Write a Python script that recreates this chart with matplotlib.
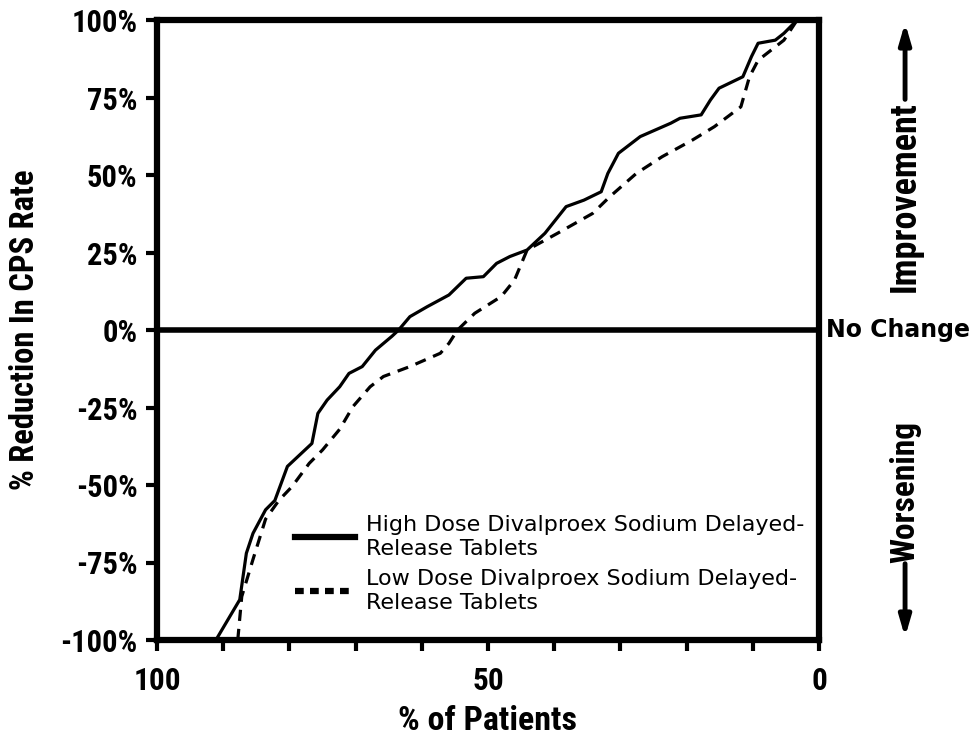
import matplotlib
matplotlib.use("Agg")
import matplotlib.pyplot as plt
from matplotlib.lines import Line2D

# % of patients (x, reversed axis) vs % reduction in CPS rate (y)
high_x = [91.1, 87.5, 86.5, 85.5, 83.6, 82.2, 80.3, 78.3, 76.6, 75.7, 74.3, 72.4, 71.0, 69.0, 67.0,
          64.5, 63.5, 61.8, 59.2, 55.9, 53.3, 50.7, 48.7, 46.7, 44.1, 41.4, 38.2, 35.5, 32.9, 31.9,
          30.3, 27.0, 22.4, 21.0, 17.8, 16.4, 15.1, 11.5, 10.2, 9.2, 6.6, 5.3, 3.3]
high_y = [-100, -87, -72, -65.6, -58, -55, -44, -40, -36.6, -26.9, -22.6, -18.3, -14, -11.8, -6.5,
          -2, 0, 4.3, 7.5, 11.3, 16.7, 17.2, 21.5, 23.7, 25.8, 31.2, 39.8, 41.9, 44.6, 50.5,
          57, 62.4, 66.7, 68.3, 69.4, 74.2, 78, 81.7, 88.2, 92.5, 93.5, 95.7, 100]

low_x = [87.8, 87.2, 85.5, 83.6, 81.6, 79.6, 77.0, 75.0, 72.4, 70.4, 67.8, 65.8, 61.8, 57.2, 55.9,
         54.6, 52.0, 48.0, 46.0, 44.1, 39.5, 34.2, 31.6, 27.6, 23.7, 19.1, 15.8, 11.8, 10.5, 9.2,
         5.3, 3.3]
low_y = [-100, -86, -74, -61, -55, -50.5, -43, -38.7, -32, -24.7, -18.3, -15, -11.8, -7.5, -4.3,
         0, 5.4, 10.8, 16.1, 25.8, 31.2, 37.6, 43, 50.5, 55.9, 61.3, 65.6, 72, 81.7, 87,
         93.5, 100]

high_label = "High Dose Divalproex Sodium Delayed-\nRelease Tablets"
low_label = "Low Dose Divalproex Sodium Delayed-\nRelease Tablets"

yticks = [-100, -75, -50, -25, 0, 25, 50, 75, 100]
ytick_labels = [str(v) + "%" for v in yticks]
xticks = [0, 10, 20, 30, 40, 50, 60, 70, 80, 90, 100]
xtick_labels = ["0", "", "", "", "", "50", "", "", "", "", "100"]

# narrow bold face for the axis texts
cond = dict(family=["Roboto Condensed", "Barlow Condensed", "Archivo Narrow", "DejaVu Sans"],
            weight="bold")

fig = plt.figure(figsize=(9.77, 7.38), dpi=100)
ax = fig.add_axes([157 / 977, 1 - 640 / 738, 662 / 977, 620 / 738])

ax.plot(high_x, high_y, color="black", lw=2.3, label=high_label)
ax.plot(low_x, low_y, color="black", lw=2.3, ls=(0, (3.5, 2.5)), label=low_label)
ax.axhline(0, color="black", lw=4)

ax.set_xlim(100, 0)
ax.set_ylim(-100, 100)
ax.set_xticks(xticks)
ax.set_xticklabels(xtick_labels, fontsize=22.5, **cond)
ax.set_yticks(yticks)
ax.set_yticklabels(ytick_labels, fontsize=22, **cond)
ax.tick_params(axis="both", direction="out", length=8, width=3, color="black")
ax.tick_params(axis="x", pad=11)
ax.tick_params(axis="y", pad=6)
for s in ax.spines.values():
    s.set_linewidth(4.5)

ax.set_xlabel("% of Patients", fontsize=24.5, labelpad=6, **cond)
ax.set_ylabel("% Reduction In CPS Rate", fontsize=23.5, **cond)
ax.yaxis.set_label_coords(-0.175, 0.5)

handles = [Line2D([], [], color="black", lw=4.5),
           Line2D([], [], color="black", lw=4.5, ls=(0, (1.4, 1.0)))]
leg = ax.legend(handles, [high_label, low_label], loc="lower left", bbox_to_anchor=(0.178, 0.012),
                frameon=False, fontsize=16, handlelength=2.7, handletextpad=0.5,
                labelspacing=0.45)
for t in leg.get_texts():
    t.set_linespacing(1.25)

# right side annotations
ax.text(-1.0, 0, "No Change", fontsize=17, fontweight="bold", family="DejaVu Sans",
        ha="left", va="center", clip_on=False)
ax.text(-13.0, 43, "Improvement", rotation=90, fontsize=26, ha="center", va="center",
        clip_on=False, **cond)
ax.text(-13.0, -52.3, "Worsening", rotation=90, fontsize=24, ha="center", va="center",
        clip_on=False, **cond)
ax.annotate("", xy=(-13.0, 100), xytext=(-13.0, 73.5), annotation_clip=False,
            arrowprops=dict(arrowstyle="-|>,head_length=1.2,head_width=0.35", color="black", lw=3.5))
ax.annotate("", xy=(-13.0, -100), xytext=(-13.0, -74.5), annotation_clip=False,
            arrowprops=dict(arrowstyle="-|>,head_length=1.2,head_width=0.35", color="black", lw=3.5))

fig.savefig("out.png", dpi=100)
